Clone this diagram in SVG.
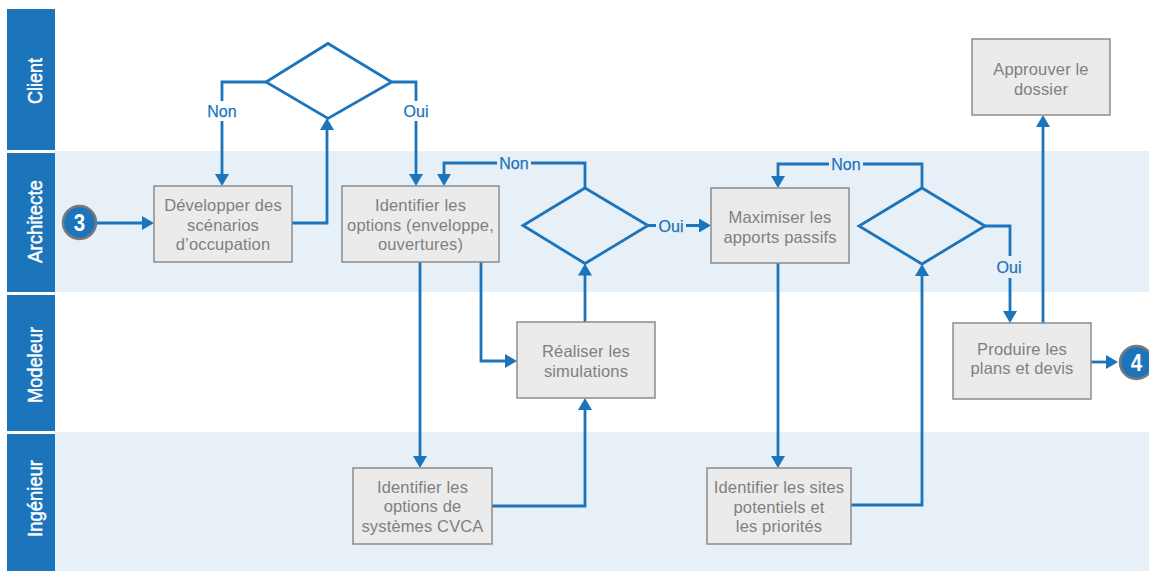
<svg xmlns="http://www.w3.org/2000/svg" width="1149" height="571" viewBox="0 0 1149 571">
  <style>
    .band { fill: #e7eff7; }
    .lanehead { fill: #1c75bb; }
    .lanelabel { font-family: "Liberation Sans", Arial, sans-serif; font-size: 21px; fill: #ffffff; stroke: #ffffff; stroke-width: 0.5; text-anchor: middle; }
    .box { fill: #ebebeb; stroke: #8c8c8c; stroke-width: 1.5; }
    .boxtext { font-family: "Liberation Sans", Arial, sans-serif; font-size: 16.5px; letter-spacing: 0.15px; fill: #808080; text-anchor: middle; }
    .diamond { fill: none; stroke: #1c75bb; stroke-width: 2.8; stroke-linejoin: miter; }
    .conn { fill: none; stroke: #1c75bb; stroke-width: 2.8; }
    .arrow { marker-end: url(#head); }
    .cond { font-family: "Liberation Sans", Arial, sans-serif; font-size: 16px; fill: #1c75bb; stroke: #1c75bb; stroke-width: 0.25; text-anchor: middle; }
    .badge { fill: #1c75bb; stroke: #7a7a7a; stroke-width: 2.5; }
    .badgetext { font-family: "Liberation Sans", Arial, sans-serif; font-size: 24px; font-weight: bold; fill: #ffffff; text-anchor: middle; }
  </style>
  <defs>
    <marker id="head" markerUnits="userSpaceOnUse" markerWidth="14" markerHeight="15" refX="1" refY="7" orient="auto">
      <path d="M0,0 L12,7 L0,14 z" fill="#1c75bb"/>
    </marker>
  </defs>

  <!-- swimlane backgrounds -->
  <rect x="0" y="0" width="1149" height="571" fill="#ffffff"/>
  <rect class="band" x="55" y="151" width="1094" height="141"/>
  <rect class="band" x="55" y="432" width="1094" height="139"/>

  <!-- swimlane headers -->
  <g id="lane-client">
    <rect class="lanehead" x="7" y="9" width="48" height="141"/>
    <text class="lanelabel" transform="translate(41.5,81) rotate(-90)" textLength="46" lengthAdjust="spacingAndGlyphs">Client</text>
  </g>
  <g id="lane-architecte">
    <rect class="lanehead" x="7" y="153" width="48" height="139"/>
    <text class="lanelabel" transform="translate(41.5,221.5) rotate(-90)" textLength="83" lengthAdjust="spacingAndGlyphs">Architecte</text>
  </g>
  <g id="lane-modeleur">
    <rect class="lanehead" x="7" y="295" width="48" height="136"/>
    <text class="lanelabel" transform="translate(41.5,365) rotate(-90)" textLength="76" lengthAdjust="spacingAndGlyphs">Modeleur</text>
  </g>
  <g id="lane-ingenieur">
    <rect class="lanehead" x="7" y="434" width="48" height="137"/>
    <text class="lanelabel" transform="translate(41.5,498.5) rotate(-90)" textLength="77" lengthAdjust="spacingAndGlyphs">Ingénieur</text>
  </g>

  <!-- connectors -->
  <g id="connectors">
    <path class="conn arrow" d="M97,223 H143"/>
    <path class="conn arrow" d="M292,223 H327 V129"/>
    <path class="conn arrow" d="M266,82 H222 V175"/>
    <path class="conn arrow" d="M391.7,82 H416 V175"/>
    <path class="conn arrow" d="M585,188 V163 H444 V175"/>
    <path class="conn arrow" d="M648,225.5 H700"/>
    <path class="conn arrow" d="M481,262 V361 H506"/>
    <path class="conn arrow" d="M420,262 V457"/>
    <path class="conn arrow" d="M492,506 H585 V409"/>
    <path class="conn arrow" d="M585,322 V274.5"/>
    <path class="conn arrow" d="M778,263 V457"/>
    <path class="conn arrow" d="M851,505 H922 V275"/>
    <path class="conn arrow" d="M922,188 V164 H778 V177"/>
    <path class="conn arrow" d="M985,226 H1010 V312"/>
    <path class="conn arrow" d="M1043,323 V126"/>
    <path class="conn arrow" d="M1091,362 H1107"/>

    <!-- condition labels with knock-out backgrounds -->
    <rect x="205" y="101" width="34" height="20" fill="#ffffff"/>
    <text class="cond" x="222" y="117">Non</text>
    <rect x="401" y="101" width="30" height="20" fill="#ffffff"/>
    <text class="cond" x="416" y="117">Oui</text>
    <rect x="497" y="153" width="34" height="20" class="band"/>
    <text class="cond" x="514" y="169">Non</text>
    <rect x="656" y="216" width="30" height="20" class="band"/>
    <text class="cond" x="671" y="231.5">Oui</text>
    <rect x="829" y="154" width="34" height="20" class="band"/>
    <text class="cond" x="846" y="170">Non</text>
    <rect x="995" y="256" width="30" height="22" class="band"/>
    <text class="cond" x="1009" y="272.5">Oui</text>
  </g>

  <!-- start / end badges -->
  <g id="badge-3">
    <circle class="badge" cx="79.5" cy="222.5" r="16.5"/>
    <text class="badgetext" transform="translate(79.5,231) scale(0.85,1)">3</text>
  </g>
  <g id="badge-4">
    <circle class="badge" cx="1136.5" cy="362.5" r="16.5"/>
    <text class="badgetext" transform="translate(1136.5,371) scale(0.85,1)">4</text>
  </g>

  <!-- decisions -->
  <g id="decision-client">
    <polygon class="diamond" points="328,43.5 391.7,82 328,118.5 266,82"/>
  </g>
  <g id="decision-options">
    <polygon class="diamond" points="585,188 648,225.5 585,263.5 523,225.5"/>
  </g>
  <g id="decision-apports">
    <polygon class="diamond" points="922,188 985,226 922,264 859,226"/>
  </g>

  <!-- process steps -->
  <g id="step-developper">
    <rect class="box" x="154" y="186" width="138" height="76"/>
    <text class="boxtext" x="223" y="211">Développer des</text>
    <text class="boxtext" x="223" y="230.5">scénarios</text>
    <text class="boxtext" x="223" y="250">d’occupation</text>
  </g>
  <g id="step-identifier-options">
    <rect class="box" x="342" y="186" width="157" height="76"/>
    <text class="boxtext" x="420.5" y="211">Identifier les</text>
    <text class="boxtext" x="420.5" y="230.5">options (enveloppe,</text>
    <text class="boxtext" x="420.5" y="250">ouvertures)</text>
  </g>
  <g id="step-maximiser">
    <rect class="box" x="711" y="188" width="138" height="75"/>
    <text class="boxtext" x="780" y="223.3">Maximiser les</text>
    <text class="boxtext" x="780" y="242.7">apports passifs</text>
  </g>
  <g id="step-approuver">
    <rect class="box" x="972" y="39" width="138" height="76"/>
    <text class="boxtext" x="1041" y="75">Approuver le</text>
    <text class="boxtext" x="1041" y="95">dossier</text>
  </g>
  <g id="step-realiser">
    <rect class="box" x="517" y="322" width="138" height="76"/>
    <text class="boxtext" x="586" y="357.3">Réaliser les</text>
    <text class="boxtext" x="586" y="376.7">simulations</text>
  </g>
  <g id="step-produire">
    <rect class="box" x="953" y="323" width="138" height="76"/>
    <text class="boxtext" x="1022" y="355">Produire les</text>
    <text class="boxtext" x="1022" y="374.3">plans et devis</text>
  </g>
  <g id="step-cvca">
    <rect class="box" x="353" y="468" width="139" height="76"/>
    <text class="boxtext" x="422.5" y="492.7">Identifier les</text>
    <text class="boxtext" x="422.5" y="512">options de</text>
    <text class="boxtext" x="422.5" y="531.7">systèmes CVCA</text>
  </g>
  <g id="step-sites">
    <rect class="box" x="707" y="468" width="144" height="76"/>
    <text class="boxtext" x="779" y="493.3">Identifier les sites</text>
    <text class="boxtext" x="779" y="512.7">potentiels et</text>
    <text class="boxtext" x="779" y="531.7">les priorités</text>
  </g>
</svg>
